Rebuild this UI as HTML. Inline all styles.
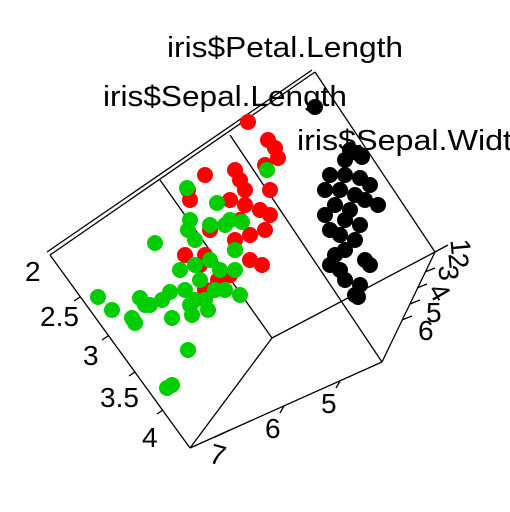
<!DOCTYPE html>
<html><head><meta charset="utf-8"><style>
html,body{margin:0;padding:0;background:#fff;overflow:hidden;}
svg{display:block;font-family:"Liberation Sans",sans-serif;}
</style></head><body>
<svg id="plot" width="510" height="512" viewBox="0 0 510 512" xmlns="http://www.w3.org/2000/svg">
<g id="box" stroke="#000" stroke-width="1.3" fill="none">
<line x1="50" y1="255" x2="315" y2="72"/>
<line x1="47" y1="252" x2="312" y2="70"/>
<line x1="315" y1="72" x2="435" y2="252"/>
<line x1="435" y1="252" x2="382" y2="362"/>
<line x1="382" y1="362" x2="190" y2="448"/>
<line x1="190" y1="448" x2="50" y2="255"/>
<line x1="272" y1="338" x2="435" y2="252"/>
<line x1="272" y1="338" x2="190" y2="448"/>
<line x1="160" y1="180" x2="272" y2="338"/>
<line x1="230" y1="135" x2="382" y2="362"/>
<line x1="80" y1="297" x2="74" y2="301"/>
<line x1="108" y1="336" x2="102" y2="340"/>
<line x1="135" y1="372" x2="129" y2="376"/>
<line x1="163" y1="410" x2="157" y2="414"/>
<line x1="340" y1="381" x2="336" y2="388"/>
<line x1="284" y1="406" x2="280" y2="413"/>
<line x1="230" y1="430" x2="215" y2="437"/>
<line x1="435" y1="252" x2="448" y2="245"/>
<line x1="425" y1="272" x2="435" y2="268"/>
<line x1="417" y1="288" x2="427" y2="284"/>
<line x1="410" y1="304" x2="420" y2="300"/>
<line x1="402" y1="320" x2="412" y2="316"/>
</g>
<g id="points"></g>
<g font-size="29" fill="#000">
<text x="167" y="57" textLength="236" lengthAdjust="spacingAndGlyphs">iris$Petal.Length</text>
<text x="103" y="106" textLength="244" lengthAdjust="spacingAndGlyphs">iris$Sepal.Length</text>
<text x="297" y="150" textLength="215" lengthAdjust="spacingAndGlyphs">iris$Sepal.Widt</text>
</g>
<g font-size="28" fill="#000">
<text x="25" y="281">2</text>
<text x="40" y="326">2.5</text>
<text x="83" y="365">3</text>
<text x="100" y="407">3.5</text>
<text x="142" y="447">4</text>
<text x="321" y="413">5</text>
<text x="265" y="438">6</text>
<text x="210" y="465" transform="rotate(15 220 455)">7</text>
<text x="452" y="256" transform="rotate(85 460 247)">1</text>
<text x="450" y="270" transform="rotate(85 458 261)">2</text>
<text x="440" y="282" transform="rotate(85 448 273)">3</text>
<text x="432" y="302" transform="rotate(60 440 292)">4</text>
<text x="426" y="322">5</text>
<text x="418" y="340">6</text>
</g>
</svg>
<script>
// projected screen-plane coordinates per species (units of 10px)
const setosaU=[31.5,35,35.7,36.2,34.5,33,34.5,36,37,32.5,34,35.5,36.5,37.8,33.5,35,32.5,34.5,36,33,34,35.5,34.5,33.5,36.5,33,34,37,34.5,36,35.5,35.8];
const setosaV=[10.7,15,15.3,15.7,16,17.5,17.5,17.8,18.5,19,19,19.5,20,20.5,20.5,21,21.5,22,22.5,23,23.5,24,25,25.5,26,26.5,27,26.5,28,28.5,29.5,29.7];
const versU=[24.8,26.8,27.5,27.8,26.5,20.5,23.5,24,24.5,27,18.8,19,23,24.5,26,27,24,26.5,25,21,23.5,18.5,20.5,25,26.2,20,23,23.5,21.2,21.8,20.5];
const versV=[12.2,14,14.8,15.8,16.5,17.5,17,18,19,19,19,20,20,20.5,21,21.5,22,23,23.5,23,24,25.5,25.5,26,26.5,26.5,27.5,25,29,28,29];
const virgU=[26.7,18.7,21.7,15.5,19,18.8,19.5,21,22.5,24.2,23,23.5,19.5,20,18.5,19.5,19,20.5,21.5,22.5,24,23.5,22,9.8,11.2,13.2,14,14.5,16.2,17,17.2,13.5,20.8,19.2,18.8,16.7,17.2,15,21,18];
const virgV=[17,18.8,20.3,24.3,22,23,24,22.5,22.5,22.2,22,25,26.5,28,29,30,30.5,30,29,29,29.5,27,27,29.7,31,31.8,29.8,30.5,30,29.2,31.8,32.3,31,31.5,35,38.8,38.5,30.5,26,27];
const sx=u=>u*10;
const sy=v=>v*10;
const g=document.getElementById('points');
const NS='http://www.w3.org/2000/svg';
function draw(U,V,col,name){
  for(let i=0;i<U.length;i++){
    const c=document.createElementNS(NS,'circle');
    c.setAttribute('cx',sx(U[i]));c.setAttribute('cy',sy(V[i]));
    c.setAttribute('r',8);c.setAttribute('fill',col);
    
    
    g.appendChild(c);
  }
}
draw(setosaU,setosaV,'#000','point-setosa');
draw(versU,versV,'#ff0000','point-versicolor');
draw(virgU,virgV,'#00cd00','point-virginica');
</script>
</body></html>
